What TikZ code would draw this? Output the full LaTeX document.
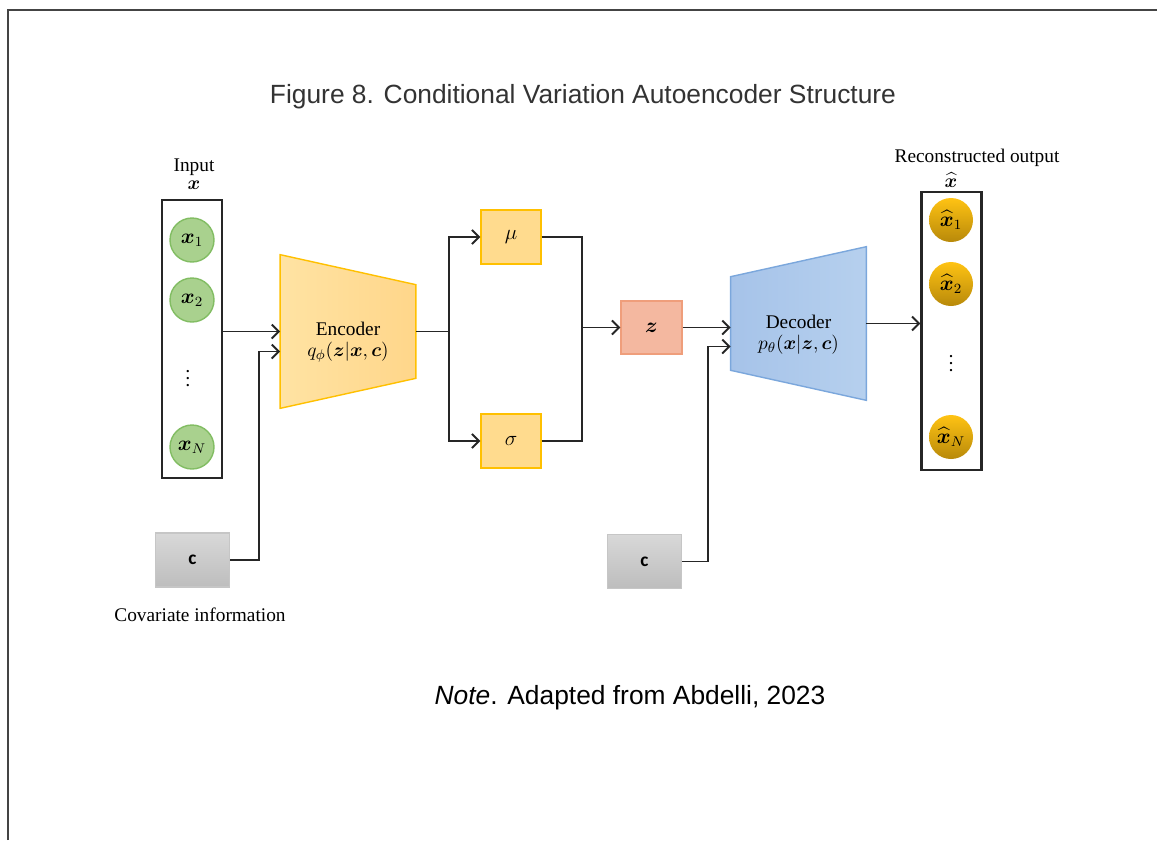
\documentclass[tikz,border=0pt]{standalone}
\usepackage{amsmath}
\usepackage{bm}
\usepackage{fontspec}
\setmainfont{Liberation Serif}
\newfontfamily\arialfont{Liberation Sans}
\newfontfamily\carlitofont{Carlito}
\usetikzlibrary{arrows.meta, positioning, calc, backgrounds}

\definecolor{infill}{HTML}{A9D18E}
\definecolor{inedge}{HTML}{82BD63}
\definecolor{parfill}{HTML}{FFDB8E}
\definecolor{paredge}{HTML}{FFC000}
\definecolor{encleft}{HTML}{FFE3A3}
\definecolor{encright}{HTML}{FFD68A}
\definecolor{zfill}{HTML}{F4B8A0}
\definecolor{zedge}{HTML}{EF9E7B}
\definecolor{decleft}{HTML}{A6C3E9}
\definecolor{decright}{HTML}{B6D0EE}
\definecolor{decedge}{HTML}{7BA7DC}
\definecolor{goldtop}{HTML}{FFC313}
\definecolor{goldbot}{HTML}{B8890A}
\definecolor{covtop}{HTML}{D8D8D8}
\definecolor{covbot}{HTML}{BDBDBD}
\definecolor{covedge}{HTML}{C6C6C6}
\definecolor{framegray}{HTML}{444444}

\begin{document}
\begin{tikzpicture}[x=0.02cm, y=-0.02cm,
        vec/.style={rectangle, draw=black!85, line width=1.2pt, minimum width=1.2cm, minimum height=5.56cm},
        inunit/.style={circle, draw=inedge, fill=infill, line width=0.8pt, minimum size=0.88cm, inner sep=0pt, font=\fontsize{12}{14}\selectfont},
        outunit/.style={circle, top color=goldtop, bottom color=goldbot, minimum size=0.88cm, inner sep=0pt, font=\fontsize{12}{14}\selectfont},
        param/.style={rectangle, draw=paredge, fill=parfill, line width=0.8pt, minimum width=1.2cm, minimum height=1.08cm, font=\fontsize{12}{14}\selectfont},
        latent/.style={rectangle, draw=zedge, fill=zfill, line width=0.8pt, minimum width=1.22cm, minimum height=1.06cm, font=\fontsize{12}{14}\selectfont},
        cov/.style={rectangle, draw=covedge, top color=covtop, bottom color=covbot, line width=0.6pt, minimum width=1.49cm, minimum height=1.08cm, font=\carlitofont\bfseries\fontsize{11}{13}\selectfont},
        net/.style={rectangle, minimum width=2.7cm, minimum height=3.06cm},
        lbl/.style={font=\fontsize{11}{13}\selectfont, inner sep=1pt},
        dots/.style={font=\fontsize{8}{8}\selectfont, inner sep=0pt},
        arr/.style={-{Straight Barb[length=4pt, width=8pt]}, line width=1.1pt, black!85},
        line/.style={line width=1.1pt, black!85}
    ]
    \useasboundingbox (0,0) rectangle (1157,840);
    \draw[framegray, line width=1.3pt] (8,840) -- (8,10) -- (1157,10);

    \node[font=\arialfont\fontsize{15}{18}\selectfont, text=black!80] (title) at (583,97) {Figure 8. Conditional Variation Autoencoder Structure};

    % input
    \node[vec] (inbox) at (192,339) {};
    \node[lbl, align=center] (inlabel) at (194,174) {Input\\[-3pt]$\bm{x}$};
    \node[inunit] (x1) at (192,240) {$\bm{x}_1$};
    \node[inunit] (x2) at (192,300) {$\bm{x}_2$};
    \node[dots] (xdots) at (188,373) {$\bm{\vdots}$};
    \node[inunit] (xN) at (192,447) {$\bm{x}_N$};

    % encoder
    \node[net] (enc) at (348,331.5) {};
    \node[lbl, align=center] (enctext) at ($(enc)+(0,11)$) {Encoder\\[-1pt]$q_{\phi}(\bm{z}|\bm{x},\bm{c})$};
    \begin{scope}[on background layer]
        \shadedraw[draw=paredge, line width=0.8pt, left color=encleft, right color=encright]
            (enc.north west) -- ($(enc.north east)+(0,30)$) -- ($(enc.south east)+(0,-30)$) -- (enc.south west) -- cycle;
    \end{scope}

    \node[cov] (cenc) at (192.5,560) {c};
    \node[lbl] (covlabel) at (200,615) {Covariate information};

    \node[param] (mu) at (511,237) {$\mu$};
    \node[param] (sigma) at (511,441) {$\sigma$};
    \node[latent] (z) at (651.5,327.5) {$\bm{z}$};

    % decoder
    \node[net] (dec) at (798.5,323.5) {};
    \node[lbl, align=center] (dectext) at ($(dec)+(0,11)$) {Decoder\\[-1pt]$p_{\theta}(\bm{x}|\bm{z},\bm{c})$};
    \begin{scope}[on background layer]
        \shadedraw[draw=decedge, line width=0.8pt, left color=decleft, right color=decright]
            ($(dec.north west)+(0,30)$) -- (dec.north east) -- (dec.south east) -- ($(dec.south west)+(0,-30)$) -- cycle;
    \end{scope}

    \node[cov] (cdec) at (644.5,561.5) {c};

    % output
    \node[vec] (outbox) at (951.5,331) {};
    \node[lbl] (outlabel) at (977,158) {Reconstructed output};
    \node[lbl] (outhat) at (951,180) {$\widehat{\bm{x}}$};
    \node[outunit] (xh1) at (951,220) {$\widehat{\bm{x}}_1$};
    \node[outunit] (xh2) at (951,284) {$\widehat{\bm{x}}_2$};
    \node[dots] (xhdots) at (951,358) {$\bm{\vdots}$};
    \node[outunit] (xhN) at (951,437) {$\widehat{\bm{x}}_N$};

    \node[font=\arialfont\fontsize{15}{18}\selectfont] (note) at (630,698) {\textit{Note}. Adapted from Abdelli, 2023};

    \draw[arr] (inbox.east |- enc.west) -- (enc.west);
    \draw[arr] (cenc.east) -- ++(29,0) |- ($(enc.west)+(0,20)$);
    \draw[line] (enc.east) -- ++(33,0) coordinate (split);
    \draw[arr] (split) |- (mu.west);
    \draw[arr] (split) |- (sigma.west);
    \draw[arr] (mu.east) -- ++(40,0) |- (z.west);
    \draw[line] (sigma.east) -- ++(40,0) |- (z.west);
    \draw[arr] (z.east) -- (z.east -| dec.west);
    \draw[arr] (cdec.east) -- ++(26,0) |- ($(dec.west)+(0,23)$);
    \draw[arr] (dec.east) -- (dec.east -| outbox.west);

\end{tikzpicture}
\end{document}
